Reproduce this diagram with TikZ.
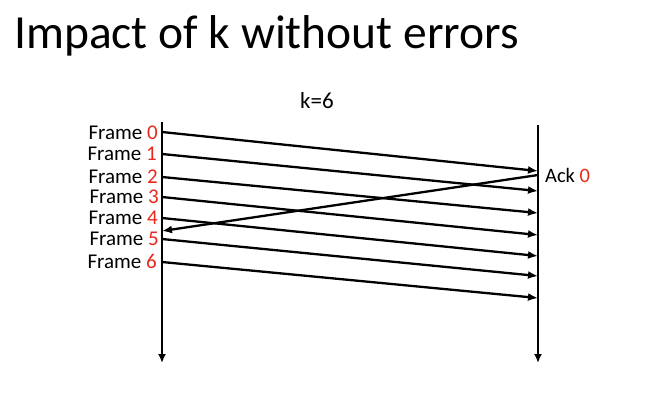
\documentclass[tikz,border=0pt]{standalone}
\usepackage{fontspec}
\setmainfont{Carlito}
\usetikzlibrary{arrows.meta}

\definecolor{numred}{RGB}{232,40,28}

\tikzset{
    timeline/.style={line width=2.3pt, -{Latex[length=9pt,width=8pt]}},
    msg/.style={line width=2.3pt, -{Latex[length=10pt,width=8pt]}},
    framelabel/.style={anchor=base east, inner sep=0pt, font=\fontsize{21}{25}\selectfont}
}

\begin{document}
\begin{tikzpicture}[x=1pt, y=-1pt]
    \useasboundingbox (0,0) rectangle (672,400);

    % Title and window size
    \node[anchor=base west, inner sep=0pt, font=\fontsize{47.5}{56}\selectfont] (title) at (14,48) {Impact of k without errors};
    \node[anchor=base, inner sep=0pt, font=\fontsize{23}{28}\selectfont] (win) at (317,108) {k=6};

    % Sender and receiver time lines
    \coordinate (sTop) at (162,122);
    \coordinate (sBot) at (162,363);
    \coordinate (rTop) at (538,125);
    \coordinate (rBot) at (538,363);
    \draw[timeline] (sTop) -- (sBot);
    \draw[timeline] (rTop) -- (rBot);

    % Frame labels
    \node[framelabel] (f0) at (158,139) {Frame \textcolor{numred}{0}};
    \node[framelabel] (f1) at (157,160) {Frame \textcolor{numred}{1}};
    \node[framelabel] (f2) at (158,183) {Frame \textcolor{numred}{2}};
    \node[framelabel] (f3) at (159,203) {Frame \textcolor{numred}{3}};
    \node[framelabel] (f4) at (158,224) {Frame \textcolor{numred}{4}};
    \node[framelabel] (f5) at (159,245) {Frame \textcolor{numred}{5}};
    \node[framelabel] (f6) at (157,268) {Frame \textcolor{numred}{6}};

    % Frames sent
    \coordinate (s0) at (162,132); \coordinate (r0) at (538,171);
    \coordinate (s1) at (162,154); \coordinate (r1) at (538,191);
    \coordinate (s2) at (162,177); \coordinate (r2) at (538,213);
    \coordinate (s3) at (162,197); \coordinate (r3) at (538,235);
    \coordinate (s4) at (162,218); \coordinate (r4) at (538,256);
    \coordinate (s5) at (162,239); \coordinate (r5) at (538,276);
    \coordinate (s6) at (162,262); \coordinate (r6) at (538,298);
    \draw[msg] (s0) -- (r0);
    \draw[msg] (s1) -- (r1);
    \draw[msg] (s2) -- (r2);
    \draw[msg] (s3) -- (r3);
    \draw[msg] (s4) -- (r4);
    \draw[msg] (s5) -- (r5);
    \draw[msg] (s6) -- (r6);

    % Acknowledgement
    \coordinate (aStart) at (538,175);
    \coordinate (aEnd) at (162,231);
    \draw[msg] (aStart) -- (aEnd);
    \node[anchor=base west, inner sep=0pt, font=\fontsize{20.5}{24}\selectfont] (ack) at (545,182) {Ack \textcolor{numred}{0}};
\end{tikzpicture}
\end{document}
